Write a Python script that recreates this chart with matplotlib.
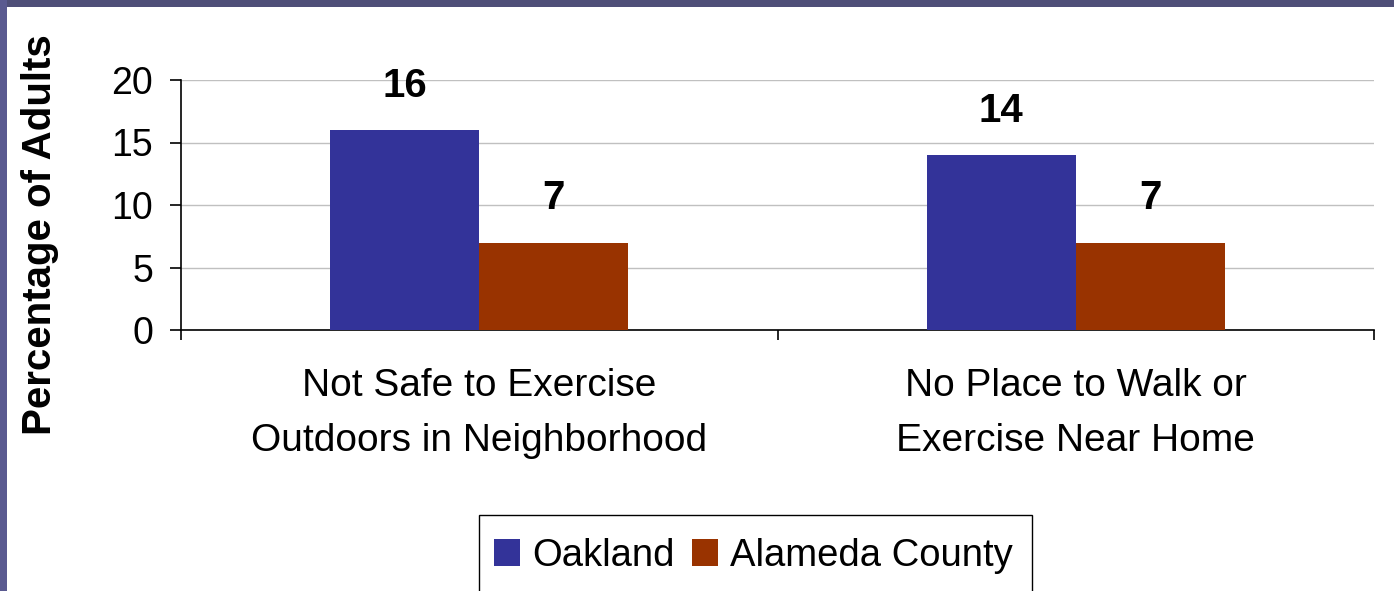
import matplotlib
matplotlib.use("Agg")
import matplotlib.pyplot as plt
import numpy as np
from matplotlib.patches import Rectangle

categories = ["Not Safe to Exercise\nOutdoors in Neighborhood", "No Place to Walk or\nExercise Near Home"]
series_names = ["Oakland", "Alameda County"]
oakland = [16, 14]
alameda = [7, 7]
yticks = [0, 5, 10, 15, 20]

plt.rcParams['font.family'] = ['Liberation Sans', 'DejaVu Sans']

W, H = 1394, 591
fig = plt.figure(figsize=(W / 100, H / 100), dpi=100)
fig.patch.set_facecolor("white")

# decorative frame strips
fig.add_artist(Rectangle((0, 1 - 7 / H), 1, 7 / H, transform=fig.transFigure,
                         facecolor="#4f4f78", edgecolor="none", zorder=0))
fig.add_artist(Rectangle((0, 0), 7 / W, 1, transform=fig.transFigure,
                         facecolor="#5a5a90", edgecolor="none", zorder=0))

ax = fig.add_axes([181 / W, (H - 330) / H, (1374 - 181) / W, 250 / H])

x = np.arange(len(categories))
bw = 0.25
b1 = ax.bar(x - bw / 2, oakland, bw, color="#333399", label=series_names[0], zorder=3)
b2 = ax.bar(x + bw / 2, alameda, bw, color="#993300", label=series_names[1], zorder=3)

for bars, vals in ((b1, oakland), (b2, alameda)):
    for rect, v in zip(bars, vals):
        ax.annotate(f"{v}", (rect.get_x() + rect.get_width() / 2, v),
                    xytext=(0, 24), textcoords="offset points",
                    ha="center", va="baseline", fontsize=29, fontweight="bold")

ax.set_xlim(-0.5, len(categories) - 0.5)
ax.set_ylim(0, 20)
ax.set_yticks(yticks)
ax.set_yticklabels([str(t) for t in yticks], fontsize=27)
ax.yaxis.grid(True, color="#c0c0c0", linewidth=1.0, zorder=0)
ax.set_axisbelow(True)

ax.set_xticks(x)
ax.set_xticklabels(categories, fontsize=28, linespacing=1.68)
ax.set_xticks(np.arange(-0.5, len(categories)), minor=True)
ax.tick_params(axis="x", which="major", length=0, pad=27)
ax.tick_params(axis="x", which="minor", length=7, width=1.2, direction="out")
ax.tick_params(axis="y", length=8, width=1.2, direction="out", pad=12)

for s in ("top", "right"):
    ax.spines[s].set_visible(False)
for s in ("left", "bottom"):
    ax.spines[s].set_linewidth(1.2)
    ax.spines[s].set_color("black")

fig.text(40 / W, (H - 235) / H, "Percentage of Adults", rotation=90,
         ha="center", va="center", fontsize=29, fontweight="bold")

# legend box (extends past the bottom edge as in the reference)
fig.add_artist(Rectangle((479 / W, -0.05), (1032 - 479) / W, 0.05 + (H - 515) / H,
                         transform=fig.transFigure, facecolor="white",
                         edgecolor="black", linewidth=1.0, zorder=4))
leg = fig.legend(handles=[b1, b2], loc="upper left",
                 bbox_to_anchor=(494 / W, 1 - 538 / H), ncol=2, fontsize=27.5,
                 frameon=False, borderpad=0,
                 handlelength=0.68, handleheight=0.68, handletextpad=0.31,
                 columnspacing=0.46, borderaxespad=0)
leg.set_zorder(5)

fig.savefig("out.png", dpi=100)
